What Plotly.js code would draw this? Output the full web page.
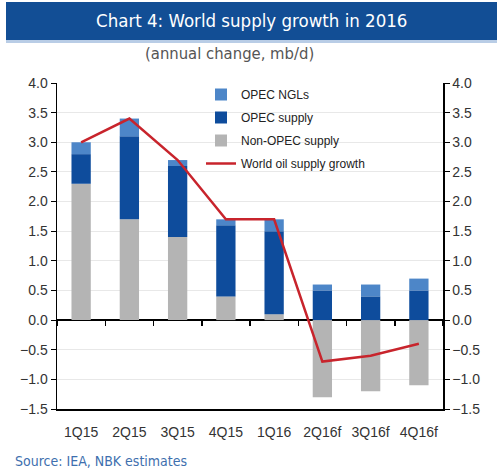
<!DOCTYPE html>
<html>
<head>
<meta charset="utf-8">
<script src="https://cdn.plot.ly/plotly-3.0.1.min.js"></script>
<style>html,body{margin:0;padding:0;background:#fff;}#chart{width:497px;height:475px;}</style>
</head>
<body>
<div id="chart"></div>
<script>
const categories = ["1Q15","2Q15","3Q15","4Q15","1Q16","2Q16f","3Q16f","4Q16f"];
const nonOpecSupply = [2.3, 1.7, 1.4, 0.4, 0.1, -1.3, -1.2, -1.1];
const opecSupply = [0.5, 1.4, 1.2, 1.2, 1.4, 0.5, 0.4, 0.5];
const opecNGLs = [0.2, 0.3, 0.1, 0.1, 0.2, 0.1, 0.2, 0.2];
const worldGrowth = [3.0, 3.4, 2.7, 1.7, 1.7, -0.7, -0.6, -0.4];
const yTicks = [-1.5, -1.0, -0.5, 0.0, 0.5, 1.0, 1.5, 2.0, 2.5, 3.0, 3.5, 4.0];

const W = 497, H = 475, ML = 57, MR = 54, MT = 83, MB = 66;
const PW = W - ML - MR, PH = H - MT - MB;
const px = v => (v - ML) / PW;
const py = v => (H - MB - v) / PH;

const traces = [
  {type:'bar', name:'Non-OPEC supply', x:categories, y:nonOpecSupply, marker:{color:'#b4b4b4'}, legendrank:3, legendgroup:'c', hoverinfo:'skip'},
  {type:'bar', name:'OPEC supply', x:categories, y:opecSupply, marker:{color:'#0e4c9c'}, legendrank:2, legendgroup:'b', hoverinfo:'skip'},
  {type:'bar', name:'OPEC NGLs', x:categories, y:opecNGLs, marker:{color:'#4d86c8'}, legendrank:1, legendgroup:'a', hoverinfo:'skip'},
  {type:'scatter', mode:'lines', name:'World oil supply growth', x:categories, y:worldGrowth, line:{color:'#c8242c', width:2.5}, legendrank:4, legendgroup:'d', hoverinfo:'skip'},
  {type:'scatter', mode:'lines', x:categories, y:worldGrowth, xaxis:'x2', yaxis:'y2', opacity:0, showlegend:false, hoverinfo:'skip'}
];

const tickFont = {family:'Liberation Sans, Arial, sans-serif', size:14, color:'#333'};
const layout = {
  width: W, height: H,
  margin: {l:ML, r:MR, t:MT, b:MB},
  paper_bgcolor:'#fff', plot_bgcolor:'#fff',
  barmode:'relative', bargap:0.6,
  showlegend:true,
  legend:{x:px(201), y:py(80), xanchor:'left', yanchor:'top', bgcolor:'rgba(0,0,0,0)',
    font:{family:'Liberation Sans, Arial, sans-serif', size:12, color:'#222'}, tracegroupgap:4, itemwidth:30},
  xaxis:{type:'category', showline:true, linecolor:'#000', linewidth:1.5, ticks:'', ticklabelstandoff:10, tickfont:tickFont, showgrid:false, zeroline:false, fixedrange:true},
  xaxis2:{type:'category', overlaying:'x', anchor:'free', position:1.5/5.5, side:'bottom', matches:'x',
    showline:false, ticks:'outside', tickson:'boundaries', ticklen:5, tickcolor:'#000', tickwidth:1.5, showticklabels:false, showgrid:false, zeroline:false},
  yaxis:{range:[-1.5,4.0], tickvals:yTicks, tickformat:'.1f', tickfont:tickFont, showline:true, linecolor:'#000', linewidth:1.5,
    ticks:'outside', ticklen:5, tickcolor:'#000', gridcolor:'#e8e8e8', gridwidth:1, zeroline:true, zerolinecolor:'#000', zerolinewidth:2, fixedrange:true},
  yaxis2:{range:[-1.5,4.0], overlaying:'y', side:'right', anchor:'x', tickvals:yTicks, tickformat:'.1f', tickfont:tickFont, showline:true, linecolor:'#000', linewidth:1.5,
    ticks:'outside', ticklen:5, tickcolor:'#000', showgrid:false, zeroline:false},
  shapes:[
    {type:'rect', xref:'paper', yref:'paper', x0:px(6), x1:px(W), y0:py(40), y1:py(2), fillcolor:'#124e95', line:{width:0}, layer:'below'},
    {type:'rect', xref:'paper', yref:'paper', x0:px(6), x1:px(W), y0:py(43), y1:py(40), fillcolor:'#b9cde6', line:{width:0}, layer:'below'}
  ],
  annotations:[
    {text:'Chart 4: World supply growth in 2016', xref:'paper', yref:'paper', x:px(251), y:py(20), xanchor:'center', yanchor:'middle', showarrow:false,
      font:{family:'DejaVu Sans Condensed, sans-serif', size:18.5, color:'#fff'}},
    {text:'(annual change, mb/d)', xref:'paper', yref:'paper', x:px(229), y:py(53), xanchor:'center', yanchor:'middle', showarrow:false,
      font:{family:'DejaVu Sans Condensed, sans-serif', size:16.5, color:'#555'}},
    {text:'Source: IEA, NBK estimates', xref:'paper', yref:'paper', x:px(13), y:py(461), xanchor:'left', yanchor:'middle', showarrow:false,
      font:{family:'DejaVu Sans Condensed, sans-serif', size:14, color:'#3e6fae'}}
  ]
};

Plotly.newPlot('chart', traces, layout, {staticPlot:true, displayModeBar:false});
</script>
</body>
</html>
